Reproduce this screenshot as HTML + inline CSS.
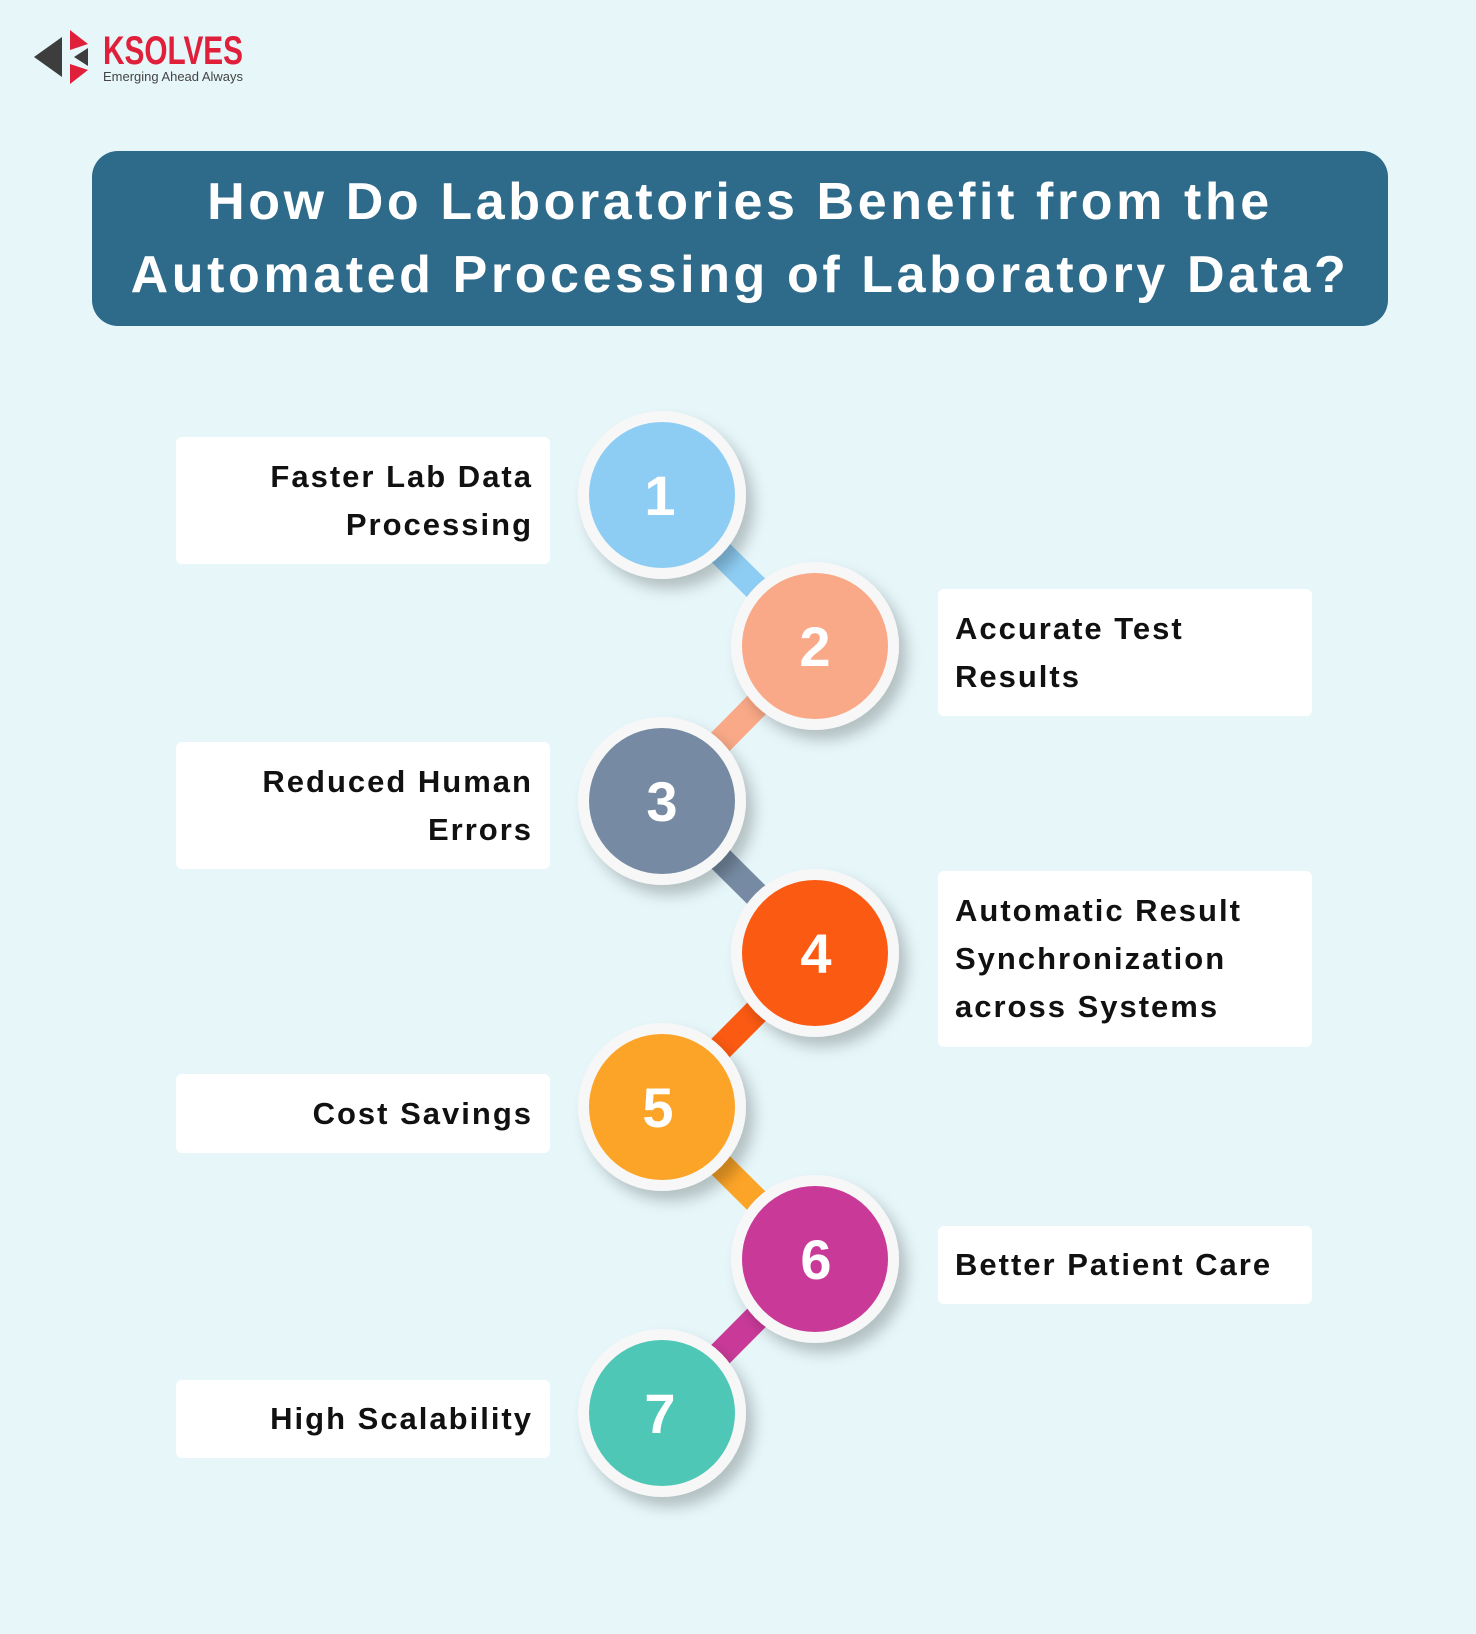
<!DOCTYPE html>
<html><head><meta charset="utf-8"><style>
*{margin:0;padding:0;box-sizing:border-box}
body{width:1476px;height:1634px;background:#e6f6f9;position:relative;overflow:hidden;font-family:"Liberation Sans",sans-serif}
.title{position:absolute;left:92px;top:151px;width:1296px;height:175px;background:#2e6a8a;border-radius:26px;color:#fff;font-weight:bold;font-size:52px;text-align:center;line-height:73px;padding-top:15px;letter-spacing:3.6px;white-space:nowrap}
.card{position:absolute;background:#fff;border-radius:6px;font-weight:bold;font-size:31px;line-height:48px;color:#111;display:flex;flex-direction:column;justify-content:center;padding:0 17px;letter-spacing:2px;white-space:nowrap}
.l{left:176px;width:374px;text-align:right}
.r{left:938px;width:374px;text-align:left}
svg{position:absolute;left:0;top:0}
</style></head><body>
<svg width="1476" height="1634">
<defs>
<filter id="sh" x="-30%" y="-30%" width="160%" height="160%"><feDropShadow dx="8" dy="10" stdDeviation="7" flood-color="#000" flood-opacity="0.22"/></filter>
</defs>
<polygon points="34,57 62,37 62,77" fill="#3d3d3d"/>
<polygon points="70,30 88,44 70,50" fill="#e0203a"/>
<polygon points="88,48 74,57 88,66" fill="#3d3d3d"/>
<polygon points="70,64 88,70 70,84" fill="#e0203a"/>
<text x="103" y="64" font-family="Liberation Sans Narrow,Liberation Sans,sans-serif" font-weight="bold" font-size="40" fill="#e0203a" textLength="140" lengthAdjust="spacingAndGlyphs">KSOLVES</text>
<text x="103" y="81" font-family="Liberation Sans,sans-serif" font-size="13" fill="#444" textLength="140" lengthAdjust="spacingAndGlyphs">Emerging Ahead Always</text>
<g stroke-width="26" stroke-linecap="butt">
<line x1="662" y1="495" x2="815" y2="646" stroke="#8ecdf3"/>
<line x1="815" y1="646" x2="662" y2="801" stroke="#f9a987"/>
<line x1="662" y1="801" x2="815" y2="953" stroke="#768ba3"/>
<line x1="815" y1="953" x2="662" y2="1107" stroke="#fb5a12"/>
<line x1="662" y1="1107" x2="815" y2="1259" stroke="#fca427"/>
<line x1="815" y1="1259" x2="662" y2="1413" stroke="#c93a98"/>
</g>
<g font-family="Liberation Sans,sans-serif" font-weight="bold" font-size="56" fill="#fff" text-anchor="middle">
<g><circle cx="662" cy="495" r="84" fill="#f7f7f7" filter="url(#sh)"/><circle cx="662" cy="495" r="73" fill="#8ecdf3"/><text x="660" y="515">1</text></g>
<g><circle cx="815" cy="646" r="84" fill="#f7f7f7" filter="url(#sh)"/><circle cx="815" cy="646" r="73" fill="#f9a987"/><text x="815" y="666">2</text></g>
<g><circle cx="662" cy="801" r="84" fill="#f7f7f7" filter="url(#sh)"/><circle cx="662" cy="801" r="73" fill="#768ba3"/><text x="662" y="821">3</text></g>
<g><circle cx="815" cy="953" r="84" fill="#f7f7f7" filter="url(#sh)"/><circle cx="815" cy="953" r="73" fill="#fb5a12"/><text x="816" y="973">4</text></g>
<g><circle cx="662" cy="1107" r="84" fill="#f7f7f7" filter="url(#sh)"/><circle cx="662" cy="1107" r="73" fill="#fca427"/><text x="658" y="1127">5</text></g>
<g><circle cx="815" cy="1259" r="84" fill="#f7f7f7" filter="url(#sh)"/><circle cx="815" cy="1259" r="73" fill="#c93a98"/><text x="816" y="1279">6</text></g>
<g><circle cx="662" cy="1413" r="84" fill="#f7f7f7" filter="url(#sh)"/><circle cx="662" cy="1413" r="73" fill="#4fc7b6"/><text x="660" y="1433">7</text></g>
</g>
</svg>
<div class="title">How Do Laboratories Benefit from the<br>Automated Processing of Laboratory Data?</div>
<div class="card l" style="top:437px;height:127px">Faster Lab Data<br>Processing</div>
<div class="card r" style="top:589px;height:127px">Accurate Test<br>Results</div>
<div class="card l" style="top:742px;height:127px">Reduced Human<br>Errors</div>
<div class="card r" style="top:871px;height:176px">Automatic Result<br>Synchronization<br>across Systems</div>
<div class="card l" style="top:1074px;height:79px">Cost Savings</div>
<div class="card r" style="top:1226px;height:78px">Better Patient Care</div>
<div class="card l" style="top:1380px;height:78px">High Scalability</div>
</body></html>
